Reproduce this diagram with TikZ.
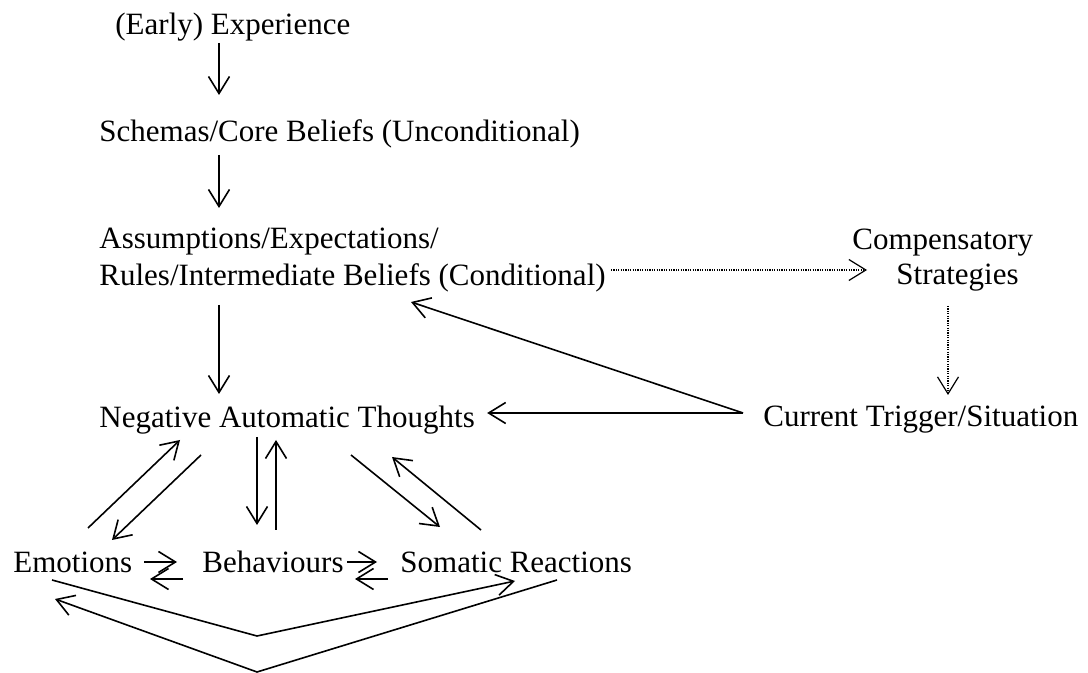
\documentclass[tikz,border=0pt]{standalone}
\usepackage{fontspec}
\setmainfont{Liberation Serif}
\usetikzlibrary{arrows.meta,calc}

\tikzset{
  lbl/.style={anchor=base west, inner sep=0pt, font=\fontsize{15.5}{18.5}\selectfont},
  arr/.style={-{Straight Barb[length=8.5pt,width=10.5pt]}, line width=0.8pt},
  dotarr/.style={arr, dash pattern=on 0.6pt off 0.6pt, line width=0.6pt},
}

\begin{document}
\begin{tikzpicture}[x=0.5pt,y=-0.5pt]
	\useasboundingbox (0,0) rectangle (1088,673);
	
	%%%%% labels %%%%%
	\node[lbl] (exp) at (115,35) {(Early) Experience};
	\node[lbl] (schemas) at (99,142) {Schemas/Core Beliefs (Unconditional)};
	\node[lbl] (assume) at (99,249) {Assumptions/Expectations/};
	\node[lbl] (rules) at (99,286) {Rules/Intermediate Beliefs (Conditional)};
	\node[lbl] (comp) at (852,250) {Compensatory};
	\node[lbl] (strat) at (896,285) {Strategies};
	\node[lbl] (trigger) at (763,427) {Current Trigger/Situation};
	\node[lbl] (nat) at (99,428) {Negative Automatic Thoughts};
	\node[lbl] (emo) at (13,573) {Emotions};
	\node[lbl] (behav) at (202,573) {Behaviours};
	\node[lbl] (soma) at (400,573) {Somatic Reactions};
	
	\coordinate (src) at (743,413);
	\coordinate (vtop) at (257,636);
	\coordinate (vbot) at (257,672);
	
	%%%%% main chain %%%%%
	\draw[arr] ($(exp.base west)+(104,8)$) -- ($(schemas.base west)+(120,-47)$);
	\draw[arr] ($(schemas.base west)+(120,13)$) -- ($(assume.base west)+(120,-41)$);
	\draw[arr] ($(rules.base west)+(120,19)$) -- ($(nat.base west)+(120,-34)$);
	
	%%%%% compensatory loop %%%%%
	\draw[dotarr] ($(rules.base east)+(5,-16)$) -- ($(strat.base west)+(-29,-15)$);
	\draw[dotarr] ($(strat.base west)+(52,21)$) -- ($(trigger.base west)+(185,-32)$);
	\draw[arr] (src) -- ($(nat.base east)+(12,-15)$);
	\draw[arr] (src) -- ($(rules.base west)+(312,16)$);
	
	%%%%% thoughts <-> responses %%%%%
	\draw[arr] ($(emo.base west)+(75,-45)$) -- ($(nat.base west)+(81,12)$);
	\draw[arr] ($(nat.base west)+(102,27)$) -- ($(emo.base west)+(99,-33)$);
	\draw[arr] ($(nat.base west)+(158,9)$) -- ($(behav.base west)+(55,-48)$);
	\draw[arr] ($(behav.base west)+(74,-43)$) -- ($(nat.base west)+(177,12)$);
	\draw[arr] ($(nat.base west)+(252,27)$) -- ($(soma.base west)+(40,-46)$);
	\draw[arr] ($(soma.base west)+(81,-43)$) -- ($(nat.base west)+(293,29)$);
	
	%%%%% responses among themselves %%%%%
	\draw[arr] ($(emo.base west)+(131,-11)$) -- ($(behav.base west)+(-25,-11)$);
	\draw[arr] ($(behav.base west)+(-19,6)$) -- ($(emo.base west)+(137,6)$);
	\draw[arr] ($(behav.base west)+(145,-11)$) -- ($(soma.base west)+(-23,-11)$);
	\draw[arr] ($(soma.base west)+(-12,6)$) -- ($(behav.base west)+(153,6)$);
	
	\draw[arr] ($(emo.base west)+(39,7)$) -- (vtop) -- ($(soma.base west)+(115,8)$);
	\draw[arr] ($(soma.base west)+(157,7)$) -- (vbot) -- ($(emo.base west)+(42,26)$);
	
\end{tikzpicture}
\end{document}
